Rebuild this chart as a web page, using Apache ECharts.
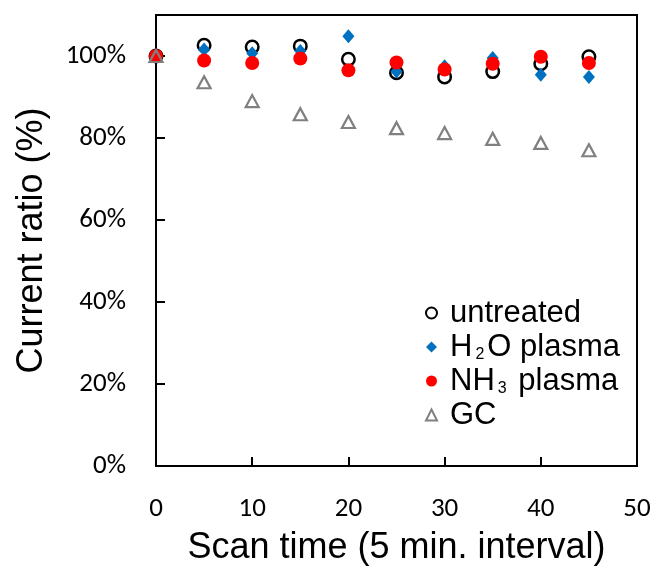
<!DOCTYPE html>
<html>
<head>
<meta charset="utf-8">
<script src="https://cdn.jsdelivr.net/npm/echarts@6/dist/echarts.min.js"></script>
<style>html,body{margin:0;padding:0;background:#fff}#c{width:657px;height:571px}</style>
</head>
<body>
<div id="c"></div>
<script>
const xValues = [0, 5, 10, 15, 20, 25, 30, 35, 40, 45];
const untreated = [100, 102.6, 102.2, 102.4, 99.2, 95.9, 94.9, 96.2, 98.1, 99.8];
const h2oPlasma = [100, 101.6, 100.7, 101.2, 104.8, 96.2, 97.5, 99.5, 95.4, 94.9];
const nh3Plasma = [100, 98.9, 98.3, 99.4, 96.5, 98.4, 96.7, 98.1, 99.8, 98.3];
const gc = [100, 93.6, 89.0, 85.8, 83.9, 82.4, 81.2, 79.8, 78.8, 77.0];
const seriesNames = ['untreated', 'H2O plasma', 'NH3 plasma', 'GC'];
const yTicks = [0, 20, 40, 60, 80, 100];

const pairs = arr => xValues.map((x, i) => [x, arr[i]]);
const FONT = '"Liberation Sans", Arial, sans-serif';
const TICKFONT = 'Carlito, "Liberation Sans", Arial, sans-serif';

const chart = echarts.init(document.getElementById('c'), null, {renderer: 'canvas'});
chart.setOption({
  animation: false,
  backgroundColor: '#fff',
  grid: {left: 156, right: 20, top: 15, bottom: 105, show: true, borderColor: '#000', borderWidth: 2, backgroundColor: 'transparent'},
  xAxis: {
    type: 'value', min: 0, max: 50, interval: 10,
    name: 'Scan time (5 min. interval)', nameLocation: 'middle', nameGap: 64,
    nameTextStyle: {fontFamily: FONT, fontSize: 36, color: '#000'},
    axisLine: {lineStyle: {color: '#000', width: 2}},
    axisTick: {inside: true, length: 9, lineStyle: {color: '#000', width: 2}},
    axisLabel: {margin: 30, fontFamily: TICKFONT, fontSize: 27, color: '#000'},
    splitLine: {show: false}
  },
  yAxis: {
    type: 'value', min: 0, max: 110, interval: 20,
    name: 'Current ratio (%)', nameLocation: 'middle', nameGap: 106,
    nameTextStyle: {fontFamily: FONT, fontSize: 36, color: '#000'},
    axisLine: {lineStyle: {color: '#000', width: 2}},
    axisTick: {inside: true, length: 9, lineStyle: {color: '#000', width: 2}},
    axisLabel: {margin: 30, fontFamily: TICKFONT, fontSize: 27, color: '#000',
      formatter: v => yTicks.indexOf(v) >= 0 ? v + '%' : ''},
    splitLine: {show: false}
  },
  legend: {
    left: 420, top: 292, orient: 'vertical', itemGap: 2,
    itemWidth: 11, itemHeight: 11,
    textStyle: {fontFamily: FONT, fontSize: 31, color: '#000', lineHeight: 32,
      rich: {p: {width: 8, lineHeight: 32},
             s: {fontFamily: FONT, fontSize: 16, lineHeight: 32, color: '#000', padding: [0, 3, 0, 3], verticalAlign: 'bottom'},
             n: {fontFamily: FONT, fontSize: 31, lineHeight: 32, color: '#000'}}},
    formatter: name => {
      if (name === 'H2O plasma') return '{p|}{n|H}{s|2}{n|O plasma}';
      if (name === 'NH3 plasma') return '{p|}{n|NH}{s|3}{n| plasma}';
      return '{p|}{n|' + name + '}';
    },
    data: [
      {name: seriesNames[0], icon: 'circle', itemStyle: {color: '#fff', borderColor: '#000', borderWidth: 2, opacity: 1}},
      {name: seriesNames[1], icon: 'diamond', itemStyle: {color: '#0070C0', borderWidth: 0, opacity: 1}},
      {name: seriesNames[2], icon: 'circle', itemStyle: {color: '#FF0000', borderWidth: 0, opacity: 1}},
      {name: seriesNames[3], icon: 'triangle', itemStyle: {color: '#fff', borderColor: '#808080', borderWidth: 2, opacity: 1}}
    ]
  },
  series: [
    {name: seriesNames[0], type: 'scatter', data: pairs(untreated), symbol: 'circle', symbolSize: 12.5,
     itemStyle: {color: 'rgba(0,0,0,0)', borderColor: '#000', borderWidth: 2.5, opacity: 1}, z: 2},
    {name: seriesNames[1], type: 'scatter', data: pairs(h2oPlasma), symbol: 'diamond', symbolSize: [12, 14],
     itemStyle: {color: '#0070C0', opacity: 1}, z: 3},
    {name: seriesNames[2], type: 'scatter', data: pairs(nh3Plasma), symbol: 'circle', symbolSize: 14,
     itemStyle: {color: '#FF0000', opacity: 1}, z: 4},
    {name: seriesNames[3], type: 'scatter', data: pairs(gc), symbol: 'triangle', symbolSize: [13, 12],
     itemStyle: {color: 'rgba(0,0,0,0)', borderColor: '#808080', borderWidth: 2.2, opacity: 1}, z: 5}
  ]
});
</script>
</body>
</html>
